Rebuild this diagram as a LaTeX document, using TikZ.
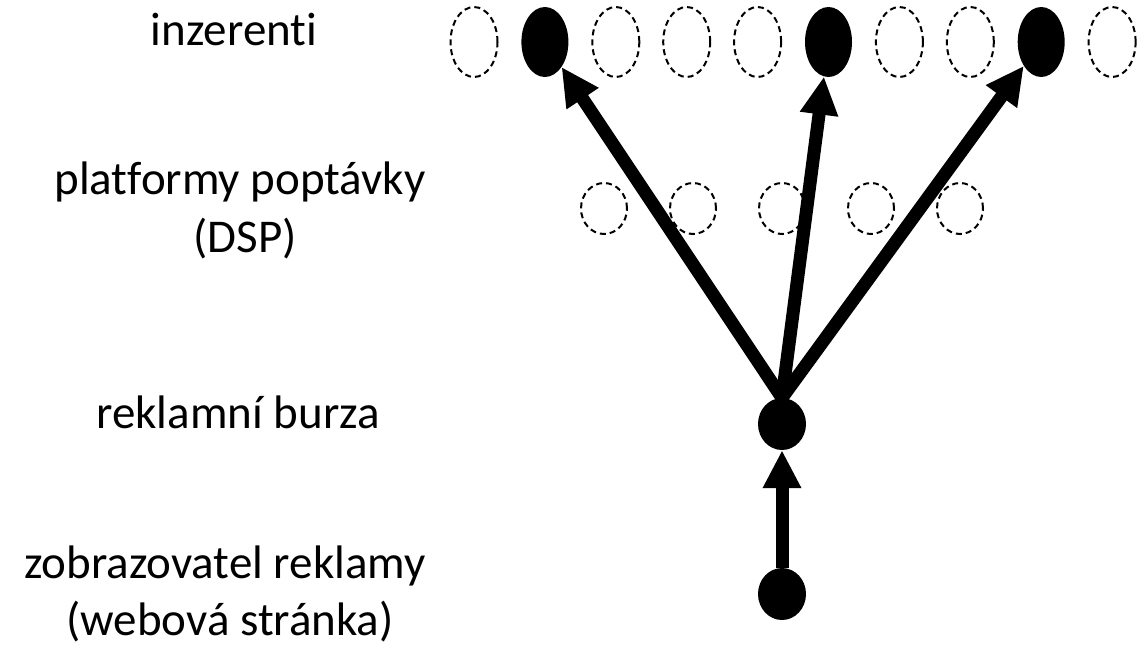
\documentclass[tikz,border=0pt]{standalone}
\usepackage{fontspec}
\setmainfont{Carlito}[Ligatures={NoCommon}]
\usetikzlibrary{shapes.geometric,arrows.meta}
\begin{document}
\begin{tikzpicture}[x=1pt,y=-1pt,
  lbl/.style={font=\fontsize{47}{58}\selectfont,inner sep=0,anchor=base},
  topnode/.style={ellipse,minimum width=47pt,minimum height=70pt,inner sep=0},
  midnode/.style={ellipse,minimum width=46pt,minimum height=51pt,inner sep=0},
  lownode/.style={ellipse,minimum width=48pt,minimum height=52pt,inner sep=0,fill=black},
  dsh/.style={draw,line width=2pt,dash pattern=on 6pt off 4pt},
  full/.style={fill=black},
  arr/.style={line width=13pt,-{Triangle[width=36pt,length=38pt]}}
]
\useasboundingbox (0,0) rectangle (1140,646);
% labels
\node[lbl] (l1) at (234,45) {inzerenti};
\node[lbl] (l2a) at (240,194) {platformy poptávky};
\node[lbl] (l2b) at (245,252) {(DSP)};
\node[lbl] (l3) at (238,428) {reklamní burza};
\node[lbl] (l4a) at (225,578) {zobrazovatel reklamy};
\node[lbl] (l4b) at (230,635) {(webová stránka)};
% top row (advertisers)
\node[topnode,dsh]  (t1)  at (474,42) {};
\node[topnode,full] (t2)  at (544.9,42) {};
\node[topnode,dsh]  (t3)  at (615.8,42) {};
\node[topnode,dsh]  (t4)  at (686.7,42) {};
\node[topnode,dsh]  (t5)  at (757.6,42) {};
\node[topnode,full] (t6)  at (828.5,42) {};
\node[topnode,dsh]  (t7)  at (899.4,42) {};
\node[topnode,dsh]  (t8)  at (970.3,42) {};
\node[topnode,full] (t9)  at (1041.2,42) {};
\node[topnode,dsh]  (t10) at (1112.1,42) {};
% middle row (DSP)
\node[midnode,dsh] (m1) at (604,208.5) {};
\node[midnode,dsh] (m2) at (693,208.5) {};
\node[midnode,dsh] (m3) at (782,208.5) {};
\node[midnode,dsh] (m4) at (871,208.5) {};
\node[midnode,dsh] (m5) at (960,208.5) {};
% exchange and publisher
\node[lownode] (ex) at (782,424) {};
\node[lownode] (src) at (782,594) {};
% arrows
\draw[arr] (src) -- (ex);
\draw[arr] (ex.north) -- (t2);
\draw[arr] (ex.north) -- (t6);
\draw[arr] (ex.north) -- (t9);
\end{tikzpicture}
\end{document}
